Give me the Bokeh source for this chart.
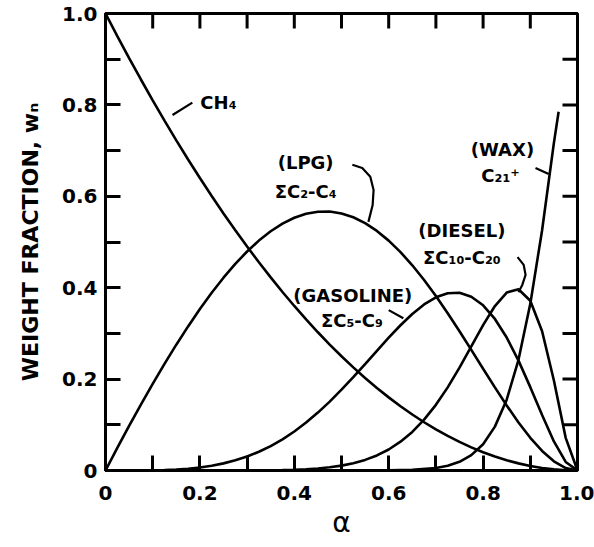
import math
from bokeh.plotting import figure
from bokeh.models import Range1d, FixedTicker, CustomJSTickFormatter, ColumnDataSource
from bokeh.core.properties import value
from bokeh.embed import file_html
from bokeh.resources import INLINE

# ---- data (weight fraction vs chain-growth probability alpha) ----
alpha = [0.0, 0.025, 0.05, 0.075, 0.1, 0.125, 0.15, 0.175, 0.2, 0.225, 0.25, 0.275,
         0.3, 0.325, 0.35, 0.375, 0.4, 0.425, 0.45, 0.475, 0.5, 0.525, 0.55, 0.575,
         0.6, 0.625, 0.65, 0.675, 0.7, 0.725, 0.75, 0.775, 0.8, 0.825, 0.85, 0.875,
         0.9, 0.925, 0.95, 0.975, 1.0]
ch4 = [1.0, 0.9506, 0.9025, 0.8556, 0.81, 0.7656, 0.7225, 0.6806, 0.64, 0.6006, 0.5625, 0.5256,
       0.49, 0.4556, 0.4225, 0.3906, 0.36, 0.3306, 0.3025, 0.2756, 0.25, 0.2256, 0.2025, 0.1806,
       0.16, 0.1406, 0.1225, 0.1056, 0.09, 0.0756, 0.0625, 0.0506, 0.04, 0.0306, 0.0225, 0.0156,
       0.01, 0.0056, 0.0025, 0.0006, 0.0]
lpg = [0.0, 0.0494, 0.0975, 0.1442, 0.1895, 0.2333, 0.2753, 0.3153, 0.3533, 0.3889, 0.4219, 0.4521,
       0.4792, 0.5031, 0.5235, 0.5402, 0.553, 0.5617, 0.5663, 0.5666, 0.5625, 0.5541, 0.5413, 0.5242,
       0.503, 0.4779, 0.4491, 0.4169, 0.3818, 0.3442, 0.3047, 0.264, 0.2227, 0.1819, 0.1423, 0.1051,
       0.0715, 0.0427, 0.0201, 0.0053, 0.0]
gasoline = [0.0, 0.0, 0.0, 0.0002, 0.0005, 0.0011, 0.0022, 0.004, 0.0067, 0.0105, 0.0156, 0.0222,
            0.0306, 0.041, 0.0535, 0.0682, 0.0854, 0.1049, 0.1267, 0.1508, 0.1768, 0.2043, 0.233, 0.262,
            0.2906, 0.3178, 0.3425, 0.3633, 0.3789, 0.3879, 0.3888, 0.3803, 0.3615, 0.3316, 0.2909, 0.2404,
            0.1824, 0.1213, 0.0636, 0.0187, 0.0]
diesel = [0.0, 0.0, 0.0, 0.0, 0.0, 0.0, 0.0, 0.0, 0.0, 0.0, 0.0, 0.0001,
          0.0001, 0.0003, 0.0005, 0.001, 0.0017, 0.0028, 0.0045, 0.007, 0.0107, 0.016, 0.0232, 0.033,
          0.046, 0.063, 0.0845, 0.1113, 0.1437, 0.1819, 0.225, 0.2715, 0.3182, 0.3599, 0.3893, 0.3967,
          0.3714, 0.3047, 0.1969, 0.0714, 0.0]
wax_alpha = [0.0, 0.5, 0.6, 0.65, 0.7, 0.725, 0.75, 0.775, 0.8, 0.825, 0.85, 0.875, 0.9, 0.925, 0.95, 0.96]
wax = [0.0, 0.0, 0.0003, 0.0015, 0.0056, 0.0105, 0.019, 0.0336, 0.0576, 0.096, 0.155, 0.2422, 0.3647, 0.5257, 0.717, 0.785]

x_ticks = [0.0, 0.2, 0.4, 0.6, 0.8, 1.0]
x_minor = [0.1, 0.3, 0.5, 0.7, 0.9]
y_ticks = [0.0, 0.2, 0.4, 0.6, 0.8, 1.0]
y_minor = [0.1, 0.3, 0.5, 0.7, 0.9]
x_max = 1.0
y_max = 1.0

# ---- annotation texts and their anchor positions (data units) ----
labels = ["CH\u2084", "(LPG)", "\u03a3C\u2082-C\u2084", "(GASOLINE)", "\u03a3C\u2085-C\u2089",
          "(DIESEL)", "\u03a3C\u2081\u2080-C\u2082\u2080", "(WAX)", "C\u2082\u2081\u207a"]
label_x = [0.201, 0.424, 0.424, 0.524, 0.522, 0.755, 0.755, 0.841, 0.837]
label_y = [0.805, 0.673, 0.610, 0.384, 0.329, 0.526, 0.465, 0.702, 0.645]
label_align = ["left", "center", "center", "center", "center", "center", "center", "center", "center"]

leader_xs = [[0.142, 0.184],
             [0.523, 0.544, 0.561, 0.568, 0.566, 0.557],
             [0.600, 0.631],
             [0.873, 0.886, 0.890, 0.883, 0.875],
             [0.911, 0.939]]
leader_ys = [[0.778, 0.805],
             [0.669, 0.662, 0.643, 0.614, 0.581, 0.544],
             [0.351, 0.333],
             [0.467, 0.450, 0.428, 0.406, 0.390],
             [0.662, 0.649]]

FONT = "DejaVu Sans"
TICK_LEN = 15

p = figure(width=594, height=547, x_range=Range1d(0, x_max), y_range=Range1d(0, y_max),
           output_backend="svg", toolbar_location=None,
           min_border_left=105, min_border_right=17, min_border_top=13, min_border_bottom=77)
p.xgrid.visible = False
p.ygrid.visible = False
p.outline_line_color = "black"
p.outline_line_width = 3
p.background_fill_color = "white"
p.border_fill_color = "white"

fmt = CustomJSTickFormatter(code="return tick == 0 ? '0' : tick.toFixed(1);")

def style_axis(ax, ticks, minor):
    ax.ticker = FixedTicker(ticks=ticks, minor_ticks=minor)
    ax.axis_line_color = "black"
    ax.axis_line_width = 3
    ax.major_tick_in = TICK_LEN
    ax.major_tick_out = 0
    ax.minor_tick_in = TICK_LEN
    ax.minor_tick_out = 0
    ax.major_tick_line_width = 3
    ax.minor_tick_line_width = 3
    ax.major_tick_line_color = "black"
    ax.minor_tick_line_color = "black"
    ax.formatter = fmt
    ax.major_label_text_font = FONT
    ax.major_label_text_font_style = "bold"
    ax.major_label_text_font_size = "20px"
    ax.major_label_text_color = "black"

xa = p.xaxis[0]
style_axis(xa, x_ticks, x_minor)
xa.major_label_standoff = 15
xa.axis_label = "\u03b1"
xa.axis_label_text_font = FONT
xa.axis_label_text_font_style = "normal"
xa.axis_label_text_font_size = "28px"
xa.axis_label_standoff = 3
xa.axis_label_text_color = "black"

ya = p.yaxis[0]
style_axis(ya, y_ticks, y_minor)
ya.major_label_standoff = 8
ya.axis_label = "WEIGHT FRACTION, w\u2099"
ya.axis_label_text_font = FONT
ya.axis_label_text_font_style = "bold"
ya.axis_label_text_font_size = "22px"
ya.axis_label_standoff = 16
ya.axis_label_text_color = "black"

# inward ticks on the top and right edges of the frame
all_x = x_ticks + x_minor
all_y = y_ticks + y_minor
p.ray(x=all_x, y=[y_max] * len(all_x), length=TICK_LEN, length_units="screen",
      angle=-math.pi / 2, line_color="black", line_width=3)
p.ray(x=[x_max] * len(all_y), y=all_y, length=TICK_LEN, length_units="screen",
      angle=math.pi, line_color="black", line_width=3)

lw = 2.6
p.line(alpha, ch4, line_color="black", line_width=lw)
p.line(alpha, lpg, line_color="black", line_width=lw)
p.line(alpha, gasoline, line_color="black", line_width=lw)
p.line(alpha, diesel, line_color="black", line_width=lw)
p.line(wax_alpha, wax, line_color="black", line_width=lw)

p.multi_line(leader_xs, leader_ys, line_color="black", line_width=2.2)

src = ColumnDataSource(dict(x=label_x, y=label_y, t=labels, a=label_align))
p.text(x="x", y="y", text="t", text_align="a", text_baseline="middle",
       text_font=value(FONT), text_font_style="bold", text_font_size="18px",
       text_color="black", source=src)

open("out.html", "w").write(file_html(p, INLINE))
